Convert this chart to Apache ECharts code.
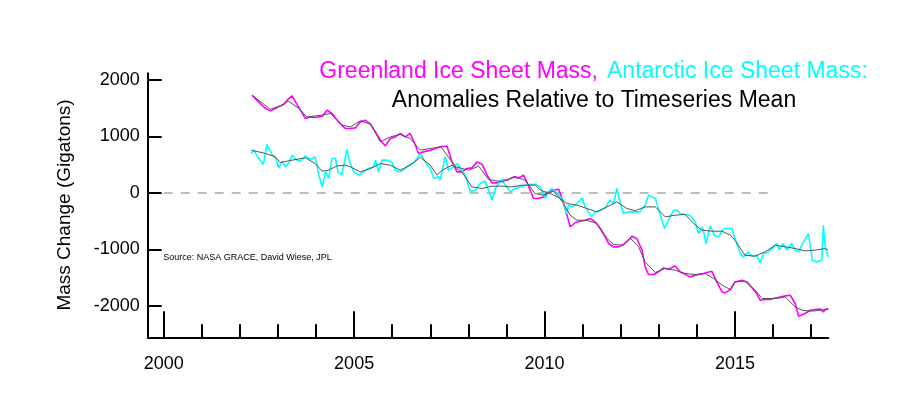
<!DOCTYPE html>
<html><head><meta charset="utf-8">
<script src="https://cdn.jsdelivr.net/npm/echarts@6/dist/echarts.min.js"></script>
<style>html,body{margin:0;padding:0;background:#fff}#c{width:913px;height:417px}</style>
</head><body><div id="c"></div>
<script>
// ---- data ----
const greenlandRaw = [[2002.32,1732],[2002.49,1613],[2002.67,1496],[2002.80,1454],[2002.93,1496],[2003.06,1542],[2003.15,1567],[2003.24,1644],[2003.37,1720],[2003.46,1613],[2003.59,1466],[2003.72,1319],[2003.85,1347],[2003.98,1337],[2004.16,1360],[2004.29,1466],[2004.42,1408],[2004.59,1259],[2004.77,1142],[2004.90,1142],[2005.03,1152],[2005.16,1259],[2005.29,1289],[2005.43,1218],[2005.56,1082],[2005.69,934],[2005.82,833],[2005.95,965],[2006.08,993],[2006.21,1053],[2006.34,993],[2006.47,1053],[2006.61,846],[2006.69,699],[2006.82,727],[2007.00,757],[2007.13,787],[2007.31,828],[2007.44,828],[2007.57,550],[2007.70,372],[2007.83,372],[2007.96,433],[2008.09,443],[2008.23,550],[2008.36,509],[2008.49,314],[2008.62,177],[2008.75,177],[2008.88,225],[2009.01,225],[2009.19,284],[2009.32,266],[2009.45,314],[2009.58,119],[2009.71,-99],[2009.84,-99],[2009.97,-71],[2010.10,18],[2010.24,48],[2010.37,66],[2010.46,-99],[2010.59,-395],[2010.67,-603],[2010.81,-525],[2010.94,-502],[2011.07,-484],[2011.20,-454],[2011.33,-514],[2011.46,-631],[2011.59,-780],[2011.68,-897],[2011.81,-957],[2011.94,-957],[2012.07,-915],[2012.25,-808],[2012.29,-768],[2012.42,-808],[2012.56,-1016],[2012.64,-1312],[2012.73,-1447],[2012.86,-1447],[2012.99,-1401],[2013.12,-1330],[2013.25,-1353],[2013.43,-1294],[2013.56,-1401],[2013.69,-1441],[2013.82,-1489],[2013.96,-1459],[2014.13,-1436],[2014.26,-1411],[2014.39,-1388],[2014.52,-1578],[2014.66,-1755],[2014.74,-1773],[2014.88,-1713],[2015.00,-1578],[2015.18,-1548],[2015.31,-1578],[2015.44,-1677],[2015.57,-1784],[2015.66,-1902],[2015.79,-1890],[2015.92,-1890],[2016.06,-1862],[2016.19,-1844],[2016.32,-1826],[2016.45,-1814],[2016.58,-1961],[2016.67,-2186],[2016.84,-2138],[2016.97,-2080],[2017.10,-2067],[2017.24,-2057],[2017.32,-2110],[2017.37,-2067],[2017.45,-2050]];

const greenlandSmooth = [[2002.32,1732],[2002.80,1484],[2003.06,1542],[2003.27,1626],[2003.54,1502],[2003.76,1347],[2004.16,1378],[2004.38,1408],[2004.68,1200],[2004.90,1170],[2005.16,1277],[2005.43,1218],[2005.69,904],[2005.95,993],[2006.21,1035],[2006.47,965],[2006.74,757],[2007.00,787],[2007.28,816],[2007.67,461],[2008.01,402],[2008.27,473],[2008.53,238],[2008.88,195],[2009.23,284],[2009.49,225],[2009.75,-11],[2009.97,-41],[2010.24,30],[2010.50,-188],[2010.67,-395],[2010.85,-484],[2011.11,-484],[2011.38,-543],[2011.64,-808],[2011.81,-915],[2012.07,-927],[2012.25,-803],[2012.47,-957],[2012.64,-1223],[2012.91,-1411],[2013.17,-1340],[2013.43,-1371],[2013.69,-1429],[2013.96,-1447],[2014.22,-1429],[2014.44,-1518],[2014.66,-1636],[2014.88,-1713],[2015.00,-1574],[2015.26,-1566],[2015.53,-1725],[2015.71,-1872],[2016.06,-1872],[2016.32,-1844],[2016.58,-2021],[2016.76,-2080],[2017.02,-2097],[2017.45,-2062]];

const antarcticRaw = [[2002.30,699],[2002.36,757],[2002.49,621],[2002.62,504],[2002.71,858],[2002.85,668],[2002.93,638],[2003.02,443],[2003.11,562],[2003.19,461],[2003.28,521],[2003.37,668],[2003.50,580],[2003.59,562],[2003.72,651],[2003.85,598],[2003.98,638],[2004.07,326],[2004.16,106],[2004.25,372],[2004.33,255],[2004.42,610],[2004.51,610],[2004.58,362],[2004.68,326],[2004.81,769],[2004.90,521],[2004.99,372],[2005.12,314],[2005.25,372],[2005.38,433],[2005.51,461],[2005.56,580],[2005.64,372],[2005.73,580],[2005.86,580],[2005.99,550],[2006.08,402],[2006.21,372],[2006.34,433],[2006.47,509],[2006.56,532],[2006.65,610],[2006.74,699],[2006.87,550],[2007.00,433],[2007.09,255],[2007.22,284],[2007.26,225],[2007.39,638],[2007.48,402],[2007.61,461],[2007.70,521],[2007.79,433],[2007.92,314],[2008.05,18],[2008.18,48],[2008.31,167],[2008.44,207],[2008.53,48],[2008.62,-129],[2008.71,78],[2008.79,167],[2008.88,225],[2009.01,106],[2009.10,18],[2009.23,78],[2009.41,119],[2009.58,149],[2009.76,154],[2009.89,106],[2010.02,-99],[2010.10,18],[2010.19,78],[2010.33,-11],[2010.46,-99],[2010.57,-365],[2010.63,-218],[2010.72,-248],[2010.85,-188],[2010.98,-89],[2011.07,-248],[2011.15,-337],[2011.24,-426],[2011.33,-337],[2011.46,-307],[2011.59,-266],[2011.72,-129],[2011.81,-188],[2011.90,78],[2011.99,-188],[2012.07,-365],[2012.20,-337],[2012.38,-337],[2012.51,-337],[2012.64,-218],[2012.73,-41],[2012.82,-71],[2012.91,-99],[2013.04,-395],[2013.15,-631],[2013.25,-484],[2013.39,-307],[2013.48,-307],[2013.56,-365],[2013.69,-383],[2013.82,-395],[2013.96,-514],[2014.04,-720],[2014.15,-603],[2014.24,-897],[2014.35,-585],[2014.46,-750],[2014.57,-780],[2014.67,-661],[2014.74,-631],[2014.83,-631],[2014.92,-631],[2015.00,-808],[2015.14,-1074],[2015.22,-1135],[2015.35,-1046],[2015.44,-1122],[2015.57,-1105],[2015.66,-1241],[2015.75,-1074],[2015.88,-1046],[2016.01,-957],[2016.10,-897],[2016.16,-1004],[2016.27,-897],[2016.36,-1016],[2016.49,-897],[2016.58,-1016],[2016.67,-1046],[2016.80,-869],[2016.93,-720],[2017.03,-1193],[2017.15,-1223],[2017.28,-1193],[2017.32,-573],[2017.37,-957],[2017.45,-1135]];

const antarcticSmooth = [[2002.30,757],[2002.67,699],[2002.93,638],[2003.06,539],[2003.37,580],[2003.72,621],[2003.98,521],[2004.16,385],[2004.33,402],[2004.55,479],[2004.77,491],[2004.90,461],[2005.16,372],[2005.43,433],[2005.69,521],[2005.95,491],[2006.21,402],[2006.47,491],[2006.74,628],[2007.00,491],[2007.18,314],[2007.31,402],[2007.57,491],[2007.83,372],[2008.09,106],[2008.36,78],[2008.62,119],[2008.88,119],[2009.14,106],[2009.41,137],[2009.76,137],[2009.89,48],[2010.15,-11],[2010.41,-99],[2010.59,-188],[2010.85,-218],[2011.11,-277],[2011.38,-337],[2011.64,-248],[2011.90,-160],[2012.16,-277],[2012.38,-316],[2012.64,-248],[2012.91,-248],[2013.17,-426],[2013.43,-395],[2013.69,-383],[2013.96,-573],[2014.13,-661],[2014.39,-679],[2014.66,-679],[2014.88,-750],[2015.00,-839],[2015.26,-1105],[2015.53,-1122],[2015.79,-1046],[2016.06,-927],[2016.32,-957],[2016.58,-986],[2016.84,-1028],[2017.10,-1016],[2017.37,-986],[2017.45,-1016]];

const zeroLine = [[2000,0],[2016,0]];
const yTicks = [-2000,-1000,0,1000,2000];
const xMajorTicks = [2000,2005,2010,2015];
const xMinorTicks = [2000,2001,2002,2003,2004,2005,2006,2007,2008,2009,2010,2011,2012,2013,2014,2015,2016,2017];
const titleLine1a = 'Greenland Ice Sheet Mass,';
const titleLine1b = 'Antarctic Ice Sheet Mass:';
const titleLine2 = 'Anomalies Relative to Timeseries Mean';
const yName = 'Mass Change (Gigatons)';
const sourceText = 'Source: NASA GRACE, David Wiese, JPL';

// ---- chart ----
const FONT = '"Liberation Sans", Arial, Helvetica, sans-serif';
const XMIN = 1999.58, XMAX = 2017.45, YMIN = -2560, YMAX = 2120;
const chart = echarts.init(document.getElementById('c'), null, {renderer: 'canvas'});
const axisCommon = {type: 'value', min: XMIN, max: XMAX, position: 'bottom', splitLine: {show: false}};
chart.setOption({
  animation: false,
  backgroundColor: '#fff',
  grid: {left: 147.7, right: 913 - 828.3, top: 73.3, bottom: 417 - 337.3, containLabel: false},
  xAxis: [
    Object.assign({}, axisCommon, {
      axisLine: {show: true, onZero: false, lineStyle: {color: '#000', width: 2}},
      axisTick: {show: true, inside: true, length: 26, customValues: xMajorTicks, lineStyle: {color: '#000', width: 2}},
      axisLabel: {show: true, customValues: xMajorTicks, margin: 18, color: '#000', fontSize: 18, fontFamily: FONT, formatter: v => String(Math.round(v))}
    }),
    Object.assign({}, axisCommon, {
      axisLine: {show: false, onZero: false},
      axisTick: {show: true, inside: true, length: 13, customValues: xMinorTicks, lineStyle: {color: '#000', width: 2}},
      axisLabel: {show: false}
    })
  ],
  yAxis: {
    type: 'value', min: YMIN, max: YMAX,
    splitLine: {show: false},
    axisLine: {show: true, onZero: false, lineStyle: {color: '#000', width: 2}},
    axisTick: {show: true, inside: true, length: 14, customValues: yTicks, lineStyle: {color: '#000', width: 2}},
    axisLabel: {show: true, customValues: yTicks, margin: 8, color: '#000', fontSize: 18, fontFamily: FONT, formatter: v => String(Math.round(v))}
  },
  series: [
    {type: 'line', data: zeroLine, showSymbol: false, silent: true,
     lineStyle: {color: '#bdbdbd', width: 2, type: [9, 8]}},
    {type: 'line', data: greenlandRaw, showSymbol: false, lineStyle: {color: '#ff00ff', width: 1.6}},
    {type: 'line', data: antarcticRaw, showSymbol: false, lineStyle: {color: '#00ffff', width: 1.6}},
    {type: 'line', data: greenlandSmooth, showSymbol: false, lineStyle: {color: '#555', width: 1}},
    {type: 'line', data: antarcticSmooth, showSymbol: false, lineStyle: {color: '#555', width: 1}}
  ],
  graphic: [
    {type: 'text', x: 598, y: 72, style: {text: titleLine1a, fill: '#ff00ff', font: '23px ' + FONT, align: 'right', verticalAlign: 'middle'}},
    {type: 'text', x: 607, y: 72, style: {text: titleLine1b, fill: '#00ffff', font: '23px ' + FONT, align: 'left', verticalAlign: 'middle'}},
    {type: 'text', x: 594, y: 101, style: {text: titleLine2, fill: '#000', font: '23px ' + FONT, align: 'center', verticalAlign: 'middle'}},
    {type: 'text', x: 65, y: 205, rotation: Math.PI / 2, style: {text: yName, fill: '#000', font: '19px ' + FONT, align: 'center', verticalAlign: 'middle'}},
    {type: 'text', x: 163.3, y: 258, style: {text: sourceText, fill: '#000', font: '9px ' + FONT, align: 'left', verticalAlign: 'middle'}}
  ]
});
</script>
</body></html>
